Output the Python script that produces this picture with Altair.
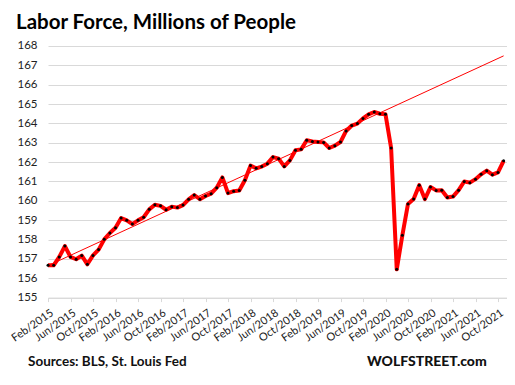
import altair as alt
import pandas as pd

month_names = ["Jan", "Feb", "Mar", "Apr", "May", "Jun",
               "Jul", "Aug", "Sep", "Oct", "Nov", "Dec"]
# Feb/2015 .. Nov/2021
months = [f"{m}/{y}" for y in range(2015, 2022) for m in month_names][1:83]

labor_force = [
    # 2015 (Feb-Dec)
    156.67, 156.67, 157.10, 157.66, 157.10, 156.98, 157.17, 156.72, 157.18, 157.48, 158.01,
    # 2016
    158.34, 158.61, 159.11, 158.99, 158.80, 158.99, 159.15, 159.56, 159.80, 159.74, 159.54, 159.70,
    # 2017
    159.65, 159.78, 160.08, 160.30, 160.08, 160.25, 160.37, 160.68, 161.21, 160.40, 160.50, 160.53,
    # 2018
    161.06, 161.82, 161.68, 161.77, 161.92, 162.26, 162.18, 161.78, 162.09, 162.61, 162.66, 163.13,
    # 2019
    163.07, 163.04, 163.02, 162.73, 162.85, 163.04, 163.61, 163.89, 163.99, 164.26, 164.47, 164.59,
    # 2020
    164.50, 164.47, 162.73, 156.46, 158.22, 159.84, 160.09, 160.81, 160.09, 160.71, 160.54, 160.55,
    # 2021 (Jan-Nov)
    160.17, 160.22, 160.55, 161.00, 160.94, 161.12, 161.37, 161.56, 161.35, 161.47, 162.07,
]

tick_labels = ["Feb/2015", "Jun/2015", "Oct/2015", "Feb/2016", "Jun/2016", "Oct/2016",
               "Feb/2017", "Jun/2017", "Oct/2017", "Feb/2018", "Jun/2018", "Oct/2018",
               "Feb/2019", "Jun/2019", "Oct/2019", "Feb/2020", "Jun/2020", "Oct/2020",
               "Feb/2021", "Jun/2021", "Oct/2021"]

y_ticks = list(range(155, 169))

trend_months = ["Feb/2015", "Nov/2021"]
trend_values = [156.65, 167.49]

title_text = "Labor Force, Millions of People"
source_text = "Sources: BLS, St. Louis Fed"
brand_text = "WOLFSTREET.com"

df = pd.DataFrame({"i": list(range(len(months))), "month": months, "value": labor_force})
trend_df = pd.DataFrame({"i": [months.index(m) for m in trend_months], "value": trend_values})

tick_idx = [months.index(t) for t in tick_labels]
label_expr = ("[" + ",".join(f"'{t}'" for t in tick_labels) + "][indexof("
              + "[" + ",".join(str(v) for v in tick_idx) + "], datum.value)]")

GRID = "#d9d9d9"

x_enc = alt.X("i:Q",
              scale=alt.Scale(domain=[0, 81.6], nice=False, zero=False),
              axis=alt.Axis(values=tick_idx, labelExpr=label_expr, labelAngle=-35,
                            labelAlign="right", labelBaseline="middle", grid=False,
                            domainColor=GRID, tickColor=GRID, tickSize=4,
                            labelFont="Lato", labelFontSize=11, labelColor="#222222",
                            labelPadding=10, labelOffset=4, title=None,
                            labelOverlap=False, labelFlush=False))
y_enc = alt.Y("value:Q",
              scale=alt.Scale(domain=[155, 168], nice=False, zero=False),
              axis=alt.Axis(values=y_ticks, grid=True, gridColor=GRID, domain=False,
                            ticks=False, labelPadding=11, labelFont="Lato",
                            labelFontSize=11.5, labelColor="#222222", title=None))

trend = alt.Chart(trend_df).mark_line(color="#ff0000", strokeWidth=1).encode(x=x_enc, y=y_enc)
line = alt.Chart(df).mark_line(color="#ff0000", strokeWidth=4, strokeJoin="round").encode(x=x_enc, y=y_enc)
pts = alt.Chart(df).mark_circle(color="#000000", size=9, opacity=1).encode(x=x_enc, y=y_enc)

title = alt.Chart(pd.DataFrame({"t": [title_text]})).mark_text(
    align="left", baseline="alphabetic", font="Lato", fontSize=20.5, fontWeight="bold",
    color="#000000").encode(x=alt.value(-32), y=alt.value(-16.5), text="t:N")
source = alt.Chart(pd.DataFrame({"t": [source_text]})).mark_text(
    align="left", baseline="alphabetic", font="Lato", fontSize=13.5, fontWeight="bold",
    color="#111111").encode(x=alt.value(-20), y=alt.value(320), text="t:N")
brand = alt.Chart(pd.DataFrame({"t": [brand_text]})).mark_text(
    align="left", baseline="alphabetic", font="Lato", fontSize=14, fontWeight=900,
    color="#111111").encode(x=alt.value(319), y=alt.value(320), text="t:N")

chart = alt.layer(trend, line, pts, title, source, brand).properties(
    width=459, height=251.6,
    autosize=alt.AutoSizeParams(type="none"),
    padding={"left": 40, "top": 38, "right": 0, "bottom": 79},
    background="white",
).configure_view(stroke=None)

chart.save("out.html", embed_options={"renderer": "svg", "actions": False})
